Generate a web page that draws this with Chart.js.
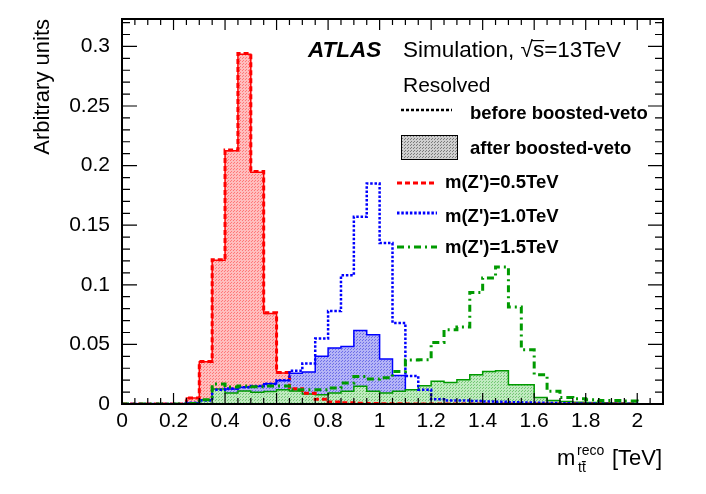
<!DOCTYPE html>
<html lang="en">
<head>
<meta charset="UTF-8">
<title>Resolved m_tt reco, before/after boosted-veto</title>
<script src="https://cdn.jsdelivr.net/npm/chart.js@4"></script>
<style>
    body { margin: 0; padding: 0; background: #fff; }
</style>
</head>
<body>
<canvas id="massChart" width="706" height="494"></canvas>
<script>
// bin edges in TeV (bin width 0.05), last entry is the upper edge
var binEdges = [0, 0.05, 0.1, 0.15, 0.2, 0.25, 0.3, 0.35, 0.4, 0.45,
                0.5, 0.55, 0.6, 0.65, 0.7, 0.75, 0.8, 0.85, 0.9, 0.95,
                1.0, 1.05, 1.1, 1.15, 1.2, 1.25, 1.3, 1.35, 1.4, 1.45,
                1.5, 1.55, 1.6, 1.65, 1.7, 1.75, 1.8, 1.85, 1.9, 1.95, 2.0];

// m(Z')=0.5TeV
var redBefore = [0, 0, 0, 0, 0, 0.005, 0.0357, 0.121, 0.213, 0.294,
                 0.195, 0.0765, 0.0265, 0.0128, 0.009, 0.004, 0.0017, 0.001, 0.0006, 0.0004,
                 0.0003, 0.0002, 0.0001, 0, 0, 0, 0, 0, 0, 0,
                 0, 0, 0, 0, 0, 0, 0, 0, 0, 0];
var redAfter  = [0, 0, 0, 0, 0, 0.005, 0.0355, 0.1205, 0.2125, 0.2935,
                 0.1945, 0.076, 0.026, 0.0125, 0.0088, 0.0038, 0.0016, 0.0009, 0.0005, 0.0003,
                 0.0002, 0.0001, 0, 0, 0, 0, 0, 0, 0, 0,
                 0, 0, 0, 0, 0, 0, 0, 0, 0, 0];
// m(Z')=1.0TeV
var blueBefore = [0, 0, 0, 0, 0, 0.001, 0.003, 0.012, 0.013, 0.014,
                  0.015, 0.017, 0.020, 0.028, 0.034, 0.055, 0.078, 0.108, 0.157, 0.185,
                  0.135, 0.068, 0.0235, 0.012, 0.004, 0.003, 0.003, 0.0025, 0.002, 0.0018,
                  0.0015, 0.0012, 0.001, 0.0008, 0.0006, 0.0005, 0.0004, 0.0003, 0.0002, 0.0002];
var blueAfter  = [0, 0, 0, 0, 0, 0.001, 0.003, 0.012, 0.0125, 0.014,
                  0.0148, 0.017, 0.0198, 0.0258, 0.0268, 0.040, 0.047, 0.0483, 0.0617, 0.0581,
                  0.0377, 0.024, 0.012, 0.0045, 0.003, 0.0025, 0.002, 0.0015, 0.0012, 0.001,
                  0.0008, 0.0006, 0.0005, 0.0004, 0.0003, 0.0002, 0.0002, 0.0001, 0.0001, 0.0001];
// m(Z')=1.5TeV
var greenBefore = [0, 0, 0, 0, 0, 0.0005, 0.0036, 0.0168, 0.0143, 0.015,
                   0.0145, 0.015, 0.015, 0.012, 0.012, 0.012, 0.0134, 0.0176, 0.023, 0.021,
                   0.022, 0.0273, 0.037, 0.0372, 0.0517, 0.0623, 0.0646, 0.0936, 0.1057, 0.115,
                   0.0814, 0.0456, 0.0246, 0.0106, 0.0055, 0.0044, 0.0036, 0.003, 0.003, 0.0025];
var greenAfter  = [0, 0, 0, 0, 0, 0.0005, 0.0036, 0.0126, 0.0092, 0.011,
                   0.0098, 0.0105, 0.012, 0.011, 0.0084, 0.0078, 0.0092, 0.0106, 0.0148, 0.0106,
                   0.0092, 0.0106, 0.012, 0.0153, 0.019, 0.018, 0.0204, 0.0246, 0.0273, 0.028,
                   0.0162, 0.0162, 0.0055, 0.003, 0.002, 0.0015, 0.0012, 0.001, 0.0008, 0.0006];

var legendLabels = ["m(Z')=0.5TeV", "m(Z')=1.0TeV", "m(Z')=1.5TeV"];

var FONT = "'Liberation Sans', Arial, Helvetica, sans-serif";
Chart.defaults.font.family = FONT;
Chart.defaults.color = '#000';

// light dotted fill, roughly like ROOT's 30xx fill styles
function dotPattern(base, dot) {
    var c = document.createElement('canvas');
    c.width = 3; c.height = 3;
    var t = c.getContext('2d');
    t.fillStyle = base;
    t.fillRect(0, 0, 3, 3);
    t.fillStyle = dot;
    t.fillRect(0, 0, 1, 1);
    t.fillRect(2, 1, 1, 1);
    return t.createPattern(c, 'repeat');
}

function histPoints(values) {
    var pts = values.map(function (v, i) { return { x: binEdges[i], y: v }; });
    pts.push({ x: binEdges[values.length], y: 0 });
    return pts;
}

function fmt(v) {
    return String(parseFloat(v.toFixed(3)));
}

var RED = '#ff0000', BLUE = '#0000ff', GREEN = '#009a00';
var DASH_RED = [5, 3], DASH_BLUE = [2.5, 1.8], DASH_GREEN = [7, 4, 2, 4];

var decor = {
    id: 'decor',
    afterDatasetsDraw: function (chart) {
        var ctx = chart.ctx, a = chart.chartArea;
        var xs = chart.scales.x, ys = chart.scales.y;
        ctx.save();
        ctx.strokeStyle = '#000';
        ctx.lineWidth = 1.2;
        ctx.beginPath();
        var i, p, len;
        for (i = 0; i <= 42; i++) {
            p = xs.getPixelForValue(i * 0.05);
            len = (i % 4 === 0) ? 11 : 6;
            ctx.moveTo(p, a.bottom); ctx.lineTo(p, a.bottom - len);
            ctx.moveTo(p, a.top); ctx.lineTo(p, a.top + len);
        }
        for (i = 0; i <= 32; i++) {
            p = ys.getPixelForValue(i * 0.01);
            len = (i % 5 === 0) ? 15 : 8;
            ctx.moveTo(a.left, p); ctx.lineTo(a.left + len, p);
            ctx.moveTo(a.right, p); ctx.lineTo(a.right - len, p);
        }
        ctx.stroke();
        ctx.lineWidth = 2;
        ctx.strokeRect(a.left, a.top, a.right - a.left, a.bottom - a.top);
        ctx.restore();
    },
    afterDraw: function (chart) {
        var ctx = chart.ctx;
        ctx.save();
        ctx.fillStyle = '#000';
        ctx.textBaseline = 'alphabetic';

        ctx.font = 'italic bold 22.5px ' + FONT;
        ctx.fillText('ATLAS', 308, 57);
        ctx.font = '22.5px ' + FONT;
        ctx.fillText('Simulation, √s=13TeV', 403, 57);
        // overline of the square root
        var w0 = ctx.measureText('Simulation, √').width;
        var w1 = ctx.measureText('Simulation, √s').width;
        ctx.fillRect(403 + w0 - 1, 40, w1 - w0 + 1, 1.2);
        ctx.font = '21px ' + FONT;
        ctx.fillText('Resolved', 403, 92);

        // legend
        ctx.lineWidth = 2.5;
        ctx.strokeStyle = '#000';
        ctx.setLineDash([3, 2]);
        ctx.beginPath(); ctx.moveTo(401, 110); ctx.lineTo(452, 110); ctx.stroke();
        ctx.setLineDash([]);
        ctx.fillStyle = dotPattern('#cfcfcf', '#7a7a7a');
        ctx.fillRect(401, 135, 57, 25);
        ctx.lineWidth = 1;
        ctx.strokeRect(401.5, 135.5, 56, 24);
        ctx.fillStyle = '#000';
        ctx.font = 'bold 18.5px ' + FONT;
        ctx.fillText('before boosted-veto', 470, 119);
        ctx.fillText('after boosted-veto', 470, 154);

        var rows = [[RED, DASH_RED, 183, 188], [BLUE, DASH_BLUE, 213, 222], [GREEN, DASH_GREEN, 247, 253]];
        rows.forEach(function (r, k) {
            ctx.strokeStyle = r[0];
            ctx.lineWidth = 3;
            ctx.setLineDash(r[1]);
            ctx.beginPath(); ctx.moveTo(397, r[2]); ctx.lineTo(437, r[2]); ctx.stroke();
            ctx.setLineDash([]);
            ctx.fillText(legendLabels[k], 445, r[3]);
        });

        // x axis title: m_{tt}^{reco} [TeV]
        ctx.font = '22px ' + FONT;
        ctx.fillText('m', 557, 465);
        ctx.fillText('[TeV]', 612, 465);
        ctx.font = '14px ' + FONT;
        ctx.fillText('reco', 577, 455);
        ctx.fillText('tt', 578, 472);
        var tw = ctx.measureText('t').width;
        ctx.fillRect(578 + tw, 461, tw, 1.2);
        ctx.restore();
    }
};

var ctx = document.getElementById('massChart').getContext('2d');
var chart = new Chart(ctx, {
    type: 'line',
    data: {
        datasets: [
            { label: 'red after', data: histPoints(redAfter), order: 6,
              borderColor: RED, borderWidth: 1.5, fill: 'origin',
              backgroundColor: dotPattern('rgb(255,190,190)', 'rgb(255,120,120)') },
            { label: 'blue after', data: histPoints(blueAfter), order: 5,
              borderColor: BLUE, borderWidth: 1.5, fill: 'origin',
              backgroundColor: dotPattern('rgb(180,180,246)', 'rgb(110,110,232)') },
            { label: 'green after', data: histPoints(greenAfter), order: 4,
              borderColor: GREEN, borderWidth: 1.5, fill: 'origin',
              backgroundColor: dotPattern('rgb(192,234,192)', 'rgb(115,200,115)') },
            { label: legendLabels[0], data: histPoints(redBefore), order: 3,
              borderColor: RED, borderWidth: 3, borderDash: DASH_RED, fill: false },
            { label: legendLabels[1], data: histPoints(blueBefore), order: 2,
              borderColor: BLUE, borderWidth: 2.5, borderDash: DASH_BLUE, fill: false },
            { label: legendLabels[2], data: histPoints(greenBefore), order: 1,
              borderColor: GREEN, borderWidth: 3, borderDash: DASH_GREEN, fill: false }
        ]
    },
    options: {
        responsive: false,
        animation: false,
        devicePixelRatio: 1,
        elements: {
            line: { stepped: 'before', tension: 0 },
            point: { radius: 0, hoverRadius: 0 }
        },
        layout: { padding: { left: 0, right: 43, top: 19, bottom: 0 } },
        plugins: { legend: { display: false }, tooltip: { enabled: false } },
        scales: {
            x: {
                type: 'linear', min: 0, max: 2.1,
                grid: { display: false }, border: { display: false },
                ticks: { stepSize: 0.2, includeBounds: false, padding: -3, maxRotation: 0, autoSkip: false,
                         font: { size: 21 }, callback: function (v) { return fmt(v); } },
                afterFit: function (s) { s.height = 90; }
            },
            y: {
                min: 0, max: 0.323,
                grid: { display: false }, border: { display: false },
                ticks: { stepSize: 0.05, includeBounds: false, padding: 4,
                         font: { size: 21 }, callback: function (v) { return fmt(v); } },
                title: { display: true, text: 'Arbitrary units', align: 'end',
                         font: { size: 22 }, padding: { top: 30, bottom: 0 } },
                afterFit: function (s) { s.width = 122; }
            }
        }
    },
    plugins: [decor]
});
</script>
</body>
</html>
